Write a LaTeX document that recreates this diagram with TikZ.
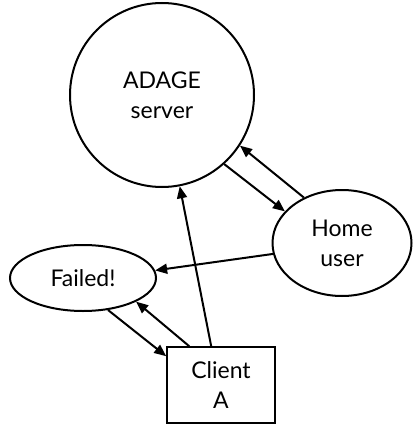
\documentclass[tikz,border=0pt]{standalone}
\usepackage{fontspec}
\setmainfont{Lato}
\usetikzlibrary{arrows.meta,shapes.geometric}
\begin{document}
\begin{tikzpicture}[x=1pt,y=-1pt,
  every node/.style={font=\fontsize{23}{30}\selectfont, align=center, line width=2pt, draw, inner sep=0pt},
  conn/.style={line width=2pt, -{Triangle[length=12pt,width=10pt]}},
  roundnode/.style={circle, minimum size=184pt},
  ovalnode/.style={ellipse},
  boxnode/.style={rectangle, line width=1.6pt}]
\useasboundingbox (0,0) rectangle (412,425);
\node[roundnode] (adage) at (162,95) {ADAGE\\server};
\node[ovalnode, minimum width=139pt, minimum height=106pt] (home) at (342,243) {Home\\user};
\node[ovalnode, minimum width=146pt, minimum height=66pt] (failed) at (83,278) {Failed!};
\node[boxnode, minimum width=108pt, minimum height=76pt] (client) at (221,385) {Client\\A};
\draw[conn] (adage.-48) -- (home.151);
\draw[conn] (home.130) -- (adage.-33);
\draw[conn] (home.-171) -- (failed.6);
\draw[conn] ([xshift=45pt]client.north west) -- (adage.-79);
\draw[conn] (failed.-52) -- ([yshift=-10pt]client.north west);
\draw[conn] ([xshift=23pt]client.north west) -- (failed.-24);
\end{tikzpicture}
\end{document}
